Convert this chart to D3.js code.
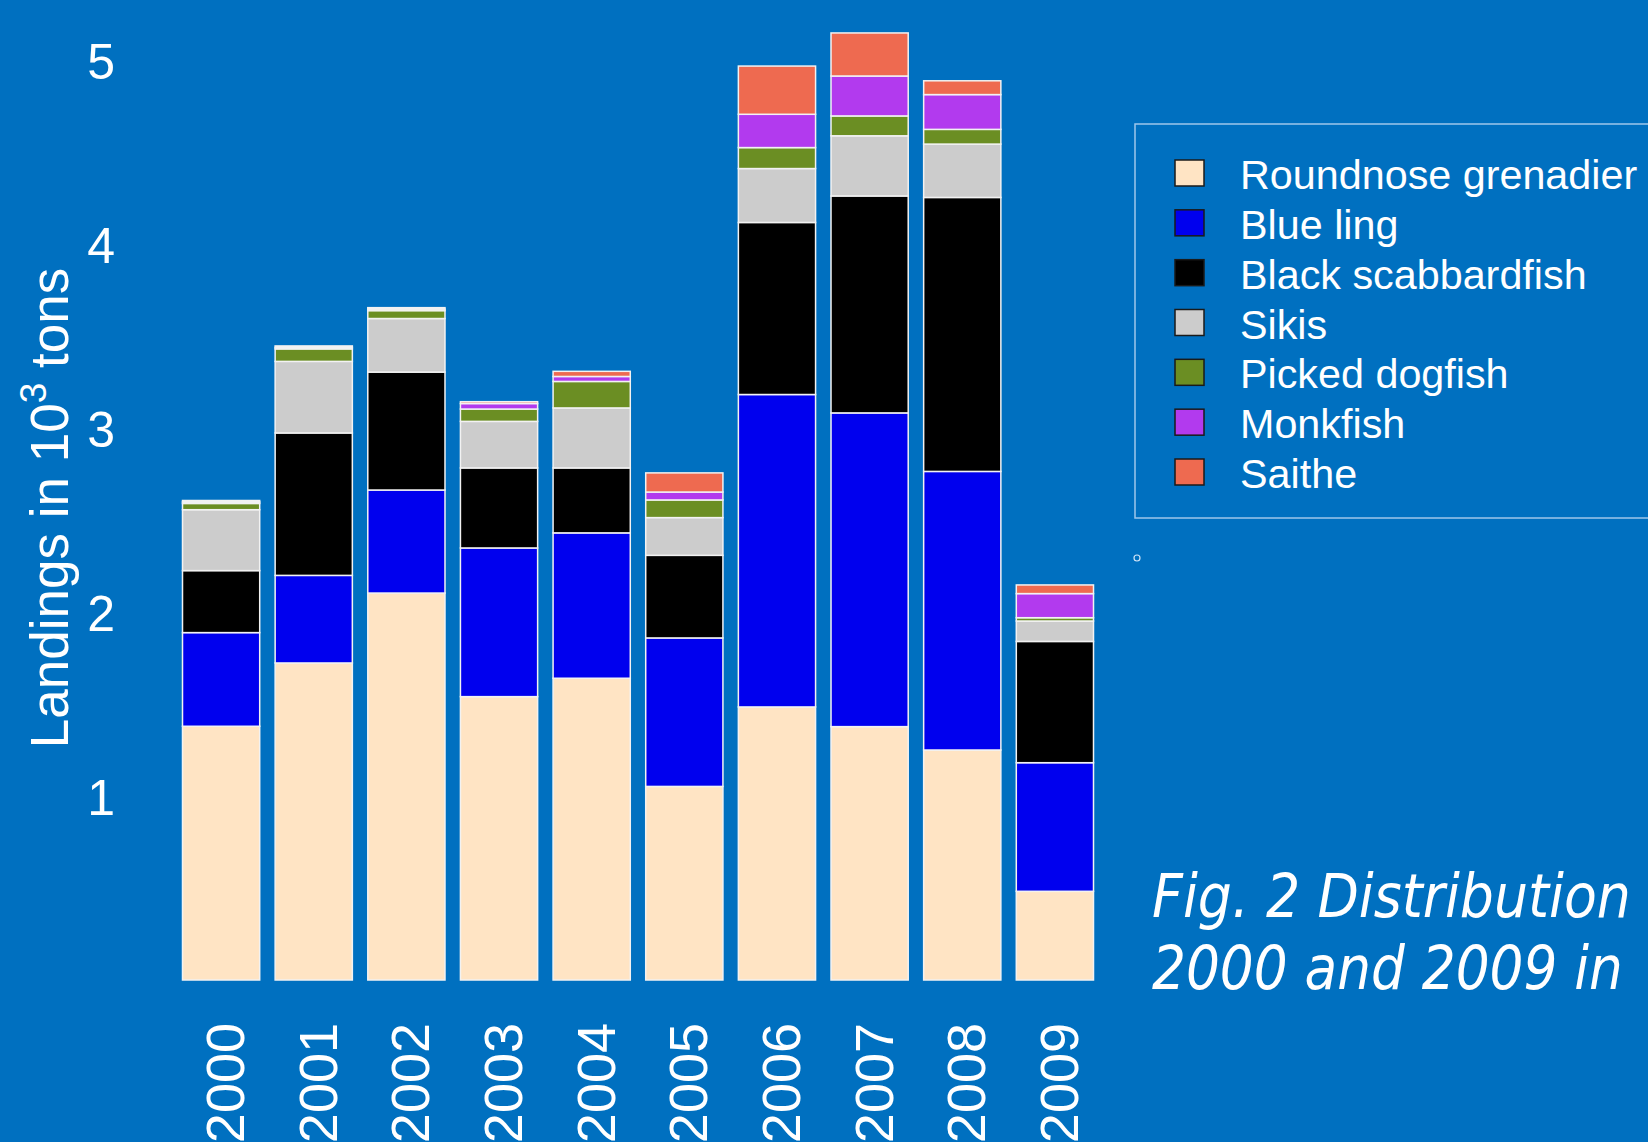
<!DOCTYPE html>
<html>
<head>
<meta charset="utf-8">
<script src="https://cdn.jsdelivr.net/npm/d3@7"></script>
<style>
  html, body { margin: 0; padding: 0; background: #0070C0; overflow: hidden; }
  svg { display: block; }
</style>
</head>
<body>
<svg id="chart" width="1648" height="1142"></svg>
<script>
// Landings (thousand tons) by species and year
const years = ["2000","2001","2002","2003","2004","2005","2006","2007","2008","2009"];
const species = ["Roundnose grenadier","Blue ling","Black scabbardfish","Sikis","Picked dogfish","Monkfish","Saithe"];
const colors  = ["#FFE4C4","#0000EE","#000000","#CCCCCC","#6B8E23","#B23AEE","#EE6A50"];

const roundnoseGrenadier = [1.379, 1.723, 2.103, 1.540, 1.640, 1.052, 1.484, 1.377, 1.250, 0.482];
const blueLing           = [0.509, 0.476, 0.560, 0.808, 0.790, 0.807, 1.698, 1.705, 1.514, 0.699];
const blackScabbardfish  = [0.337, 0.774, 0.641, 0.435, 0.353, 0.449, 0.935, 1.179, 1.489, 0.659];
const sikis              = [0.331, 0.389, 0.291, 0.253, 0.326, 0.205, 0.293, 0.327, 0.290, 0.111];
const pickedDogfish      = [0.034, 0.068, 0.043, 0.067, 0.144, 0.096, 0.114, 0.108, 0.080, 0.018];
const monkfish           = [0.008, 0.008, 0.008, 0.030, 0.027, 0.043, 0.181, 0.217, 0.189, 0.131];
const saithe             = [0.008, 0.008, 0.008, 0.010, 0.028, 0.104, 0.262, 0.234, 0.075, 0.047];

const yTicks = [1, 2, 3, 4, 5];
const captionLines = ["Fig. 2 Distribution", "2000 and 2009 in"];
const captionWidths = [479, 471];

const seriesValues = [roundnoseGrenadier, blueLing, blackScabbardfish, sikis, pickedDogfish, monkfish, saithe];

// one row per year, one column per species, for d3.stack
const table = years.map((yr, i) => {
  const row = { year: yr };
  species.forEach((s, j) => { row[s] = seriesValues[j][i]; });
  return row;
});

const svg = d3.select("#chart");
const font = "'Liberation Sans', Arial, sans-serif";

const x = d3.scaleBand().domain(years).range([182.5, 1093.5]).paddingInner(1 / 6).paddingOuter(0);
const y = d3.scaleLinear().domain([0, 5]).range([980, 60]);
const color = d3.scaleOrdinal().domain(species).range(colors);

const stacked = d3.stack().keys(species)(table);

// stacked bars
svg.append("g")
  .selectAll("g")
  .data(stacked)
  .join("g")
    .attr("fill", d => color(d.key))
  .selectAll("rect")
  .data(d => d)
  .join("rect")
    .attr("x", d => x(d.data.year))
    .attr("width", x.bandwidth())
    .attr("y", d => y(d[1]))
    .attr("height", d => y(d[0]) - y(d[1]))
    .attr("stroke", "#f2f2f2")
    .attr("stroke-width", 1.5);

// y axis labels (no axis line)
const yAxis = d3.axisLeft(y).tickValues(yTicks).tickFormat(d3.format("d")).tickSize(0).tickPadding(0);
const gy = svg.append("g").attr("transform", "translate(115,0)").call(yAxis);
gy.select(".domain").remove();
gy.selectAll("text")
  .attr("fill", "#ffffff")
  .attr("font-family", font)
  .attr("font-size", 50)
  .attr("dy", "0.36em");

// x axis labels, perpendicular to the axis
const xAxis = d3.axisBottom(x).tickSize(0).tickPadding(0);
const gx = svg.append("g").attr("transform", "translate(0,1023)").call(xAxis);
gx.select(".domain").remove();
gx.selectAll("text")
  .attr("fill", "#ffffff")
  .attr("font-family", font)
  .attr("font-size", 54)
  .attr("text-anchor", "end")
  .attr("dy", null)
  .attr("y", null)
  .attr("transform", "translate(23,0) rotate(-90)");

// y axis title with superscript exponent
const yTitle = svg.append("text")
  .attr("transform", "translate(68,508) rotate(-90)")
  .attr("text-anchor", "middle")
  .attr("fill", "#ffffff")
  .attr("font-family", font)
  .attr("font-size", 53);
yTitle.append("tspan").text("Landings in 10");
yTitle.append("tspan").attr("font-size", 37).attr("dy", -22).text("3");
yTitle.append("tspan").attr("dy", 22).text(" tons");

// legend
const legend = svg.append("g");
legend.append("rect")
  .attr("x", 1135).attr("y", 124)
  .attr("width", 560).attr("height", 394)
  .attr("fill", "none")
  .attr("stroke", "#9ec6ea")
  .attr("stroke-width", 1.5);

const rowY = d3.scalePoint().domain(species).range([173, 472]);
const items = legend.selectAll("g.item")
  .data(species)
  .join("g")
    .attr("class", "item")
    .attr("transform", d => `translate(0,${rowY(d)})`);
items.append("rect")
  .attr("x", 1175).attr("y", -13)
  .attr("width", 29).attr("height", 26)
  .attr("fill", d => color(d))
  .attr("stroke", "#1a1a1a")
  .attr("stroke-width", 1.5);
items.append("text")
  .attr("x", 1240).attr("y", 16)
  .attr("fill", "#ffffff")
  .attr("font-family", font)
  .attr("font-size", 41.3)
  .text(d => d);

// small point marker below the legend
svg.append("circle")
  .attr("cx", 1137).attr("cy", 558).attr("r", 3)
  .attr("fill", "none")
  .attr("stroke", "#cfe3f5")
  .attr("stroke-width", 1.2);

// figure caption: each line narrowed horizontally to a set width
const captionRows = svg.append("g").selectAll("g")
  .data(captionLines)
  .join("g")
    .attr("class", "caption-line");
captionRows.append("text")
  .attr("x", 0)
  .attr("y", 0)
  .attr("fill", "#ffffff")
  .attr("font-family", "'DejaVu Sans', Verdana, sans-serif")
  .attr("font-style", "italic")
  .attr("font-size", 60)
  .text(d => d);
captionRows.each(function (d, i) {
  const len = d3.select(this).select("text").node().getComputedTextLength();
  const sx = captionWidths[i] / len;
  d3.select(this).attr("transform", `translate(1152,${917 + i * 72}) scale(${sx},1)`);
});
</script>
</body>
</html>
